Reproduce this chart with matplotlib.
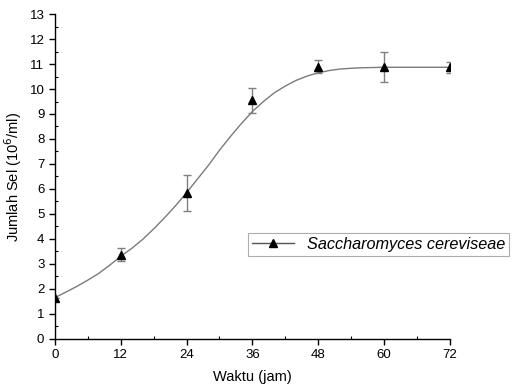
import numpy as np
import matplotlib.pyplot as plt
from matplotlib.lines import Line2D
from matplotlib.ticker import MultipleLocator

plt.rcParams['font.family'] = ['Liberation Sans', 'DejaVu Sans']

# measured points
waktu = [0, 12, 24, 36, 48, 60, 72]
jumlah = [1.65, 3.37, 5.85, 9.55, 10.9, 10.88, 10.88]
err = [0.0, 0.27, 0.72, 0.5, 0.25, 0.6, 0.22]

# fitted curve
curve_x = [0, 2, 4, 6, 8, 10, 12, 14, 16, 18, 20, 22, 24, 26, 28, 30, 32, 34, 36,
           38, 40, 42, 44, 46, 48, 50, 52, 54, 56, 58, 60, 66, 72]
curve_y = [1.65, 1.87, 2.1, 2.35, 2.62, 2.95, 3.3, 3.62, 3.98, 4.4, 4.85, 5.33,
           5.85, 6.4, 6.95, 7.55, 8.1, 8.62, 9.1, 9.5, 9.85, 10.12, 10.35, 10.52,
           10.65, 10.74, 10.8, 10.83, 10.85, 10.86, 10.87, 10.87, 10.87]

fig = plt.figure(figsize=(5.12, 3.9), dpi=100)
ax = fig.add_axes([0.107, 0.131, 0.772, 0.833])

ax.plot(curve_x, curve_y, color='#7a7a7a', linewidth=1.0, zorder=2)
ax.errorbar(waktu, jumlah, yerr=err, fmt='none', ecolor='#808080',
            elinewidth=1.0, capsize=3, capthick=1.0, zorder=3)
ax.plot(waktu, jumlah, linestyle='none', marker='^', color='black',
        markersize=6, zorder=4)

ax.set_xlim(0, 72)
ax.set_ylim(0, 13)
ax.set_xticks(range(0, 73, 12))
ax.set_yticks(range(0, 14))
ax.xaxis.set_minor_locator(MultipleLocator(6))
ax.yaxis.set_minor_locator(MultipleLocator(0.5))
ax.tick_params(which='major', direction='out', length=4, width=1, labelsize=9.5)
ax.tick_params(which='minor', direction='in', length=2.5, width=0.8)

for s in ['top', 'right']:
    ax.spines[s].set_visible(False)
ax.spines['left'].set_linewidth(1.0)
ax.spines['bottom'].set_linewidth(1.0)

ax.set_xlabel('Waktu (jam)', fontsize=10.5, labelpad=6)
ax.set_ylabel('Jumlah Sel (10$^6$/ml)', fontsize=10.5, labelpad=4)

handle = Line2D([], [], color='#555555', linewidth=1.0, marker='^',
                markerfacecolor='black', markeredgecolor='black', markersize=6)
leg = fig.legend([handle], ['Saccharomyces cereviseae'], loc='center left',
                 bbox_to_anchor=(0.484, 0.373), frameon=True, fancybox=False,
                 edgecolor='#999999', prop={'style': 'italic', 'size': 11.7},
                 handlelength=2.6, borderpad=0.25, handletextpad=0.8,
                 borderaxespad=0)
leg.get_frame().set_linewidth(0.8)

fig.savefig('out.png', dpi=100, facecolor='white')
